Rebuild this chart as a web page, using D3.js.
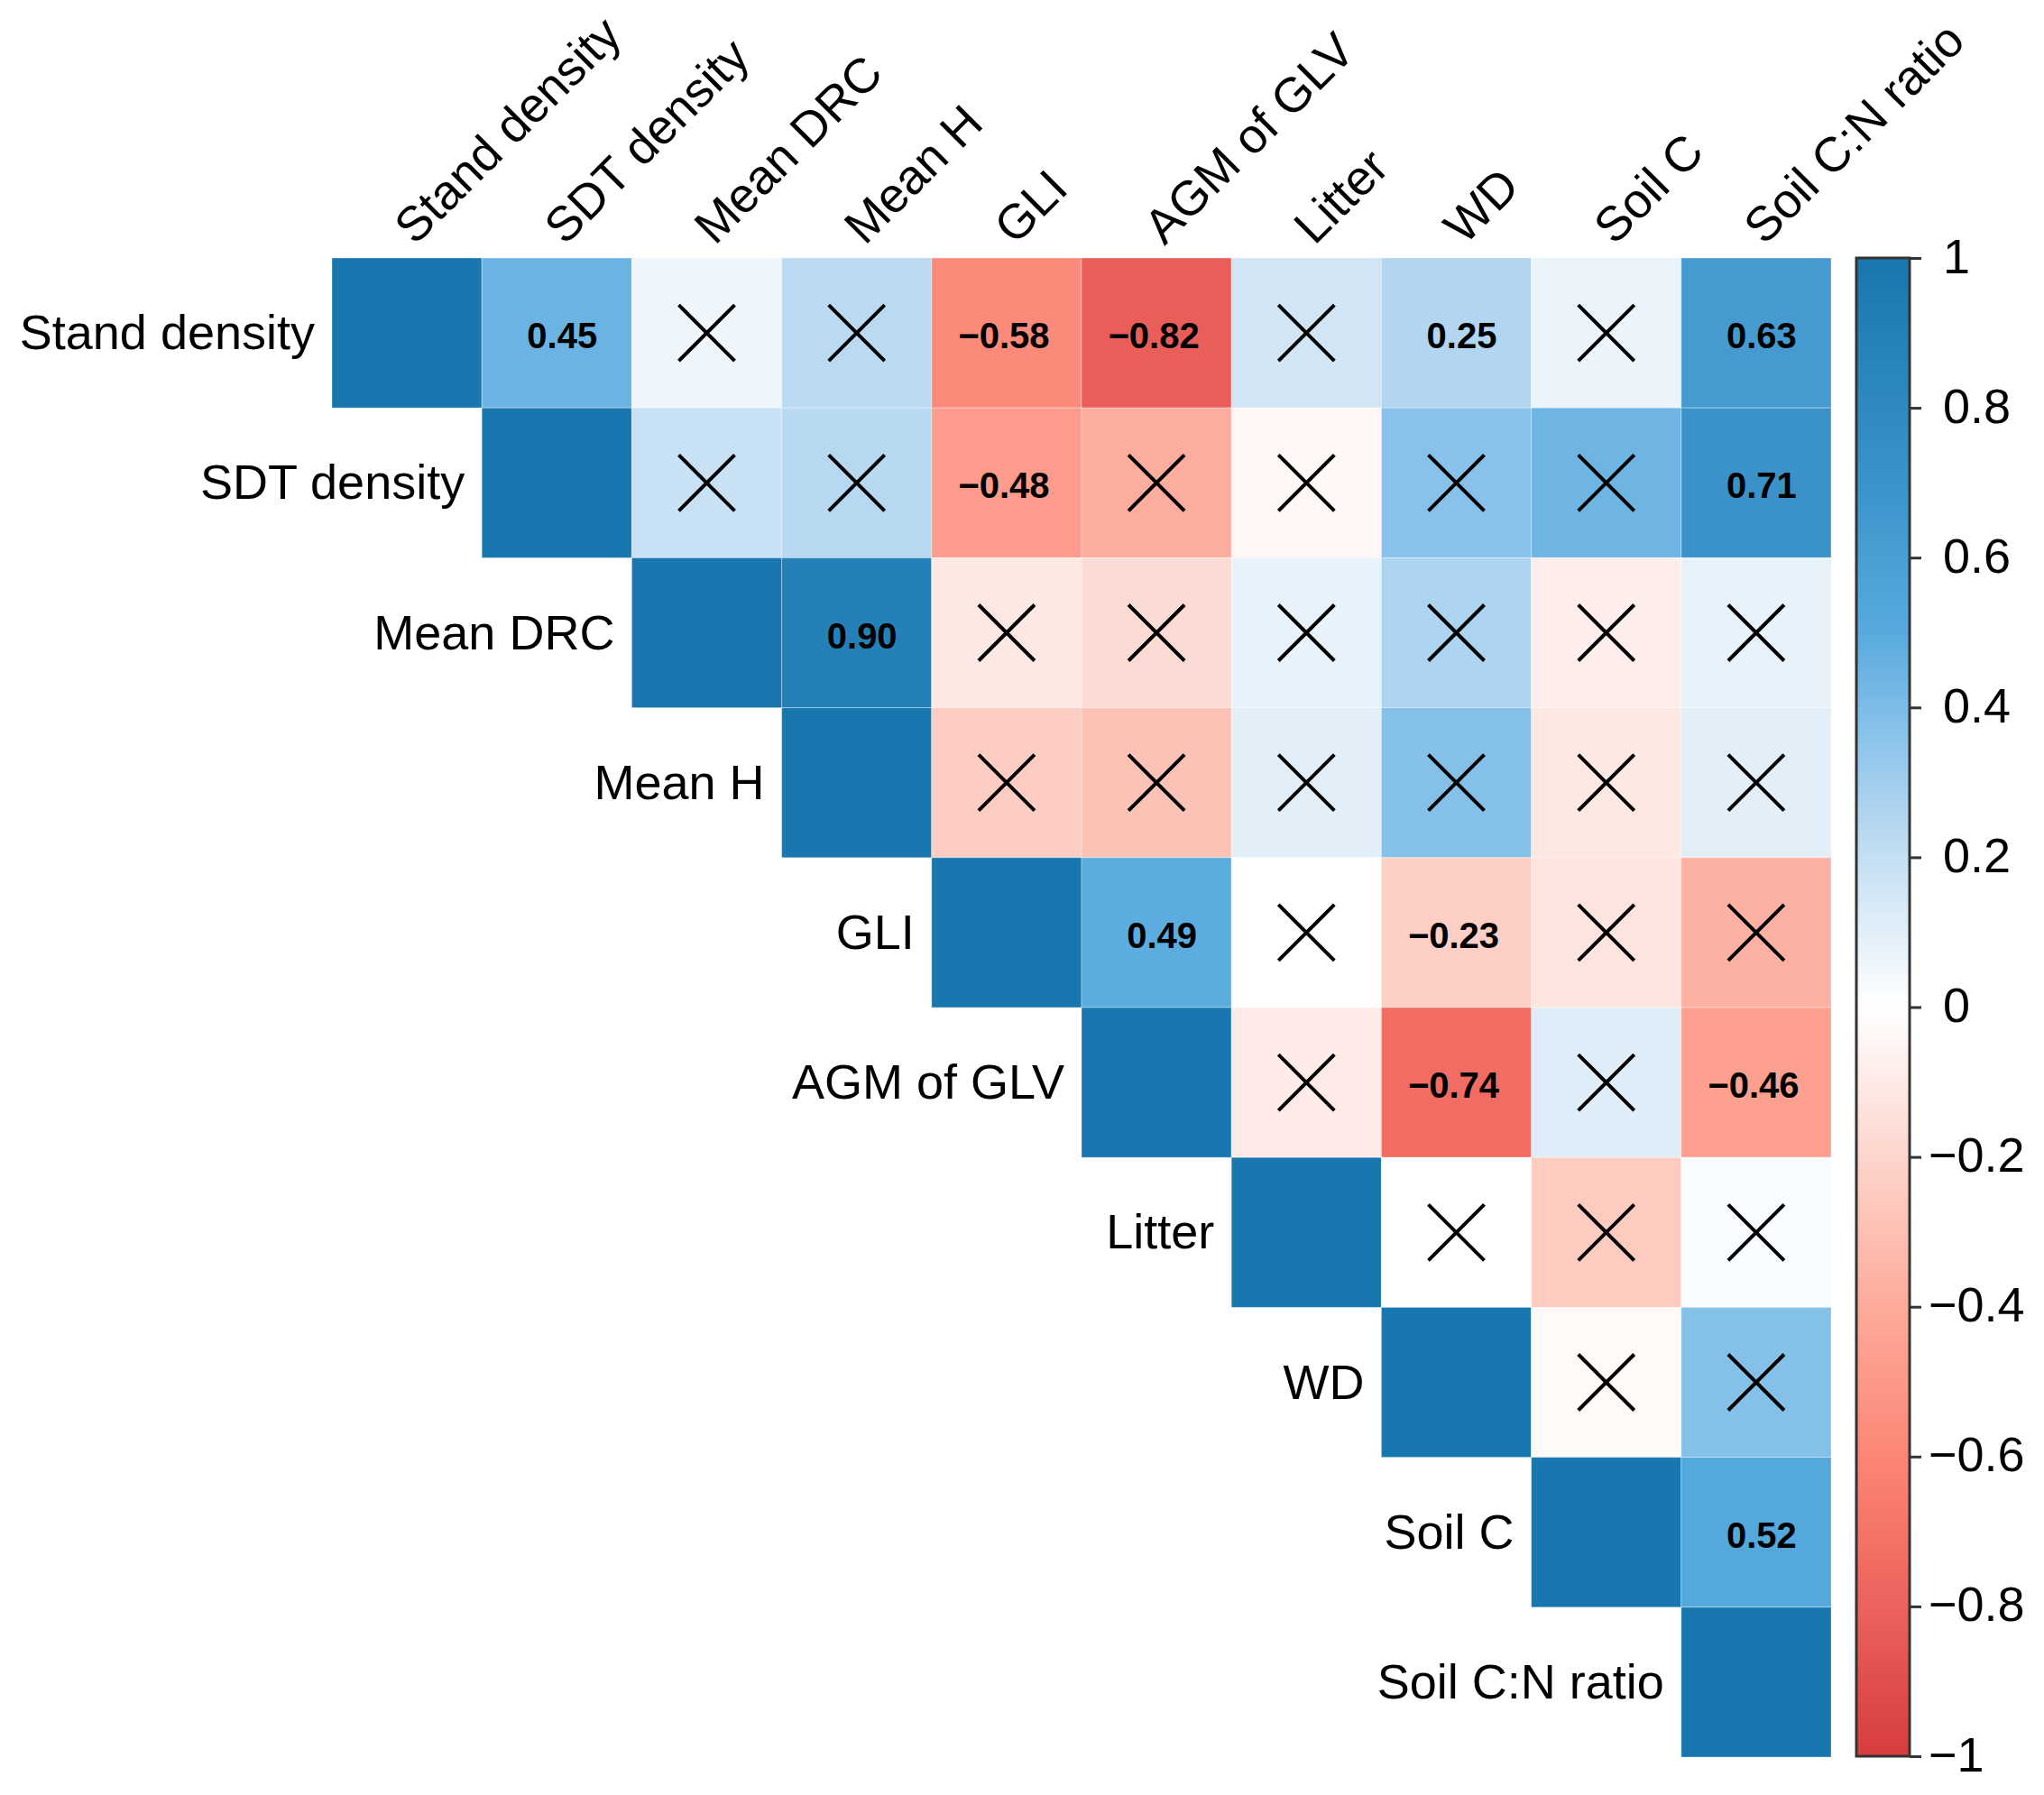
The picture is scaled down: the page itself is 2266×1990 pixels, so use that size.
<!DOCTYPE html>
<html>
<head>
<meta charset="utf-8">
<script src="https://cdn.jsdelivr.net/npm/d3@7"></script>
<style>
  body { margin: 0; background: #fff; }
  text { font-family: "Liberation Sans", Arial, sans-serif; fill: #000; }
</style>
</head>
<body>
<script>
var variables = ["Stand density", "SDT density", "Mean DRC", "Mean H", "GLI",
                 "AGM of GLV", "Litter", "WD", "Soil C", "Soil C:N ratio"];

// upper triangle of the correlation matrix, one row per variable (diagonal = 1)
var corrRows = [
  [1, 0.45, 0.06, 0.23, -0.58, -0.82, 0.16, 0.25, 0.07, 0.63],
  [1, 0.19, 0.24, -0.48, -0.39, -0.04, 0.37, 0.44, 0.71],
  [1, 0.90, -0.11, -0.17, 0.08, 0.27, -0.08, 0.08],
  [1, -0.24, -0.29, 0.10, 0.38, -0.11, 0.10],
  [1, 0.49, 0.00, -0.23, -0.13, -0.37],
  [1, -0.10, -0.74, 0.11, -0.46],
  [1, 0.00, -0.25, 0.02],
  [1, -0.03, 0.38],
  [1, 0.52],
  [1]
];

// 1 = significant (value printed), 0 = not significant (crossed out)
var sigRows = [
  [1, 1, 0, 0, 1, 1, 0, 1, 0, 1],
  [1, 0, 0, 1, 0, 0, 0, 0, 1],
  [1, 1, 0, 0, 0, 0, 0, 0],
  [1, 0, 0, 0, 0, 0, 0],
  [1, 1, 0, 1, 0, 0],
  [1, 0, 1, 0, 1],
  [1, 0, 0, 0],
  [1, 0, 0],
  [1, 1],
  [1]
];

var colorDomain = [-1, -0.8, -0.6, -0.4, -0.2, 0, 0.2, 0.4, 0.5, 0.7, 1];
var colorRange = ["#d63c3e", "#ec625c", "#fc8676", "#fdab9a", "#fdd5cd", "#ffffff",
                  "#c5dff3", "#7dbce7", "#58aade", "#3b93c9", "#1877ae"];
var legendTicks = [1, 0.8, 0.6, 0.4, 0.2, 0, -0.2, -0.4, -0.6, -0.8, -1];

var width = 2266, height = 1990;
var grid = {left: 368, top: 286, right: 2030, bottom: 1948};
var bar = {left: 2058, width: 59};

var svg = d3.select("body").append("svg")
            .attr("width", width)
            .attr("height", height);

var xScale = d3.scaleBand().domain(variables).range([grid.left, grid.right]);
var yScale = d3.scaleBand().domain(variables).range([grid.top, grid.bottom]);
var colorScale = d3.scaleLinear().domain(colorDomain).range(colorRange);
var cell = xScale.bandwidth();

var cells = [];
corrRows.forEach(function(row, i) {
  row.forEach(function(v, k) {
    var j = i + k;
    cells.push({row: variables[i], col: variables[j], value: v, sig: sigRows[i][k], diag: i === j});
  });
});

var cellG = svg.append("g").attr("class", "cells");

cellG.selectAll("rect")
  .data(cells)
  .enter().append("rect")
    .attr("x", function(d) { return xScale(d.col); })
    .attr("y", function(d) { return yScale(d.row); })
    .attr("width", cell)
    .attr("height", cell)
    .attr("fill", function(d) { return colorScale(d.value); })
    .attr("stroke", "#fff")
    .attr("stroke-opacity", 0.35)
    .attr("stroke-width", 1);

var fmt = function(v) { return d3.format(".2f")(v).replace("-", "\u2212"); };

cellG.selectAll("text.value")
  .data(cells.filter(function(d) { return d.sig && !d.diag; }))
  .enter().append("text")
    .attr("class", "value")
    .attr("x", function(d) { return xScale(d.col) + cell / 2 + (d.value > 0 ? 6 : -3); })
    .attr("y", function(d) { return yScale(d.row) + cell / 2 + 17; })
    .attr("text-anchor", "middle")
    .style("font-size", "40px")
    .style("font-weight", "bold")
    .text(function(d) { return fmt(d.value); });

// crosses for non-significant pairs
var half = 31;
var crosses = cellG.selectAll("g.cross")
  .data(cells.filter(function(d) { return !d.sig; }))
  .enter().append("g")
    .attr("class", "cross")
    .attr("transform", function(d) {
      return "translate(" + (xScale(d.col) + cell / 2) + "," + (yScale(d.row) + cell / 2) + ")";
    });

crosses.append("path")
  .attr("d", "M" + (-half) + "," + (-half) + "L" + half + "," + half +
             "M" + (-half) + "," + half + "L" + half + "," + (-half))
  .attr("stroke", "#000")
  .attr("stroke-width", 4)
  .attr("fill", "none");

// row labels, to the left of each diagonal cell
svg.append("g").selectAll("text")
  .data(variables)
  .enter().append("text")
    .attr("x", function(d) { return xScale(d) - 19; })
    .attr("y", function(d) { return yScale(d) + cell / 2 + 18; })
    .attr("text-anchor", "end")
    .style("font-size", "54px")
    .text(function(d) { return d; });

// column labels, rotated
svg.append("g").selectAll("text")
  .data(variables)
  .enter().append("text")
    .attr("transform", function(d) {
      return "translate(" + (xScale(d) + cell / 2 + 9) + "," + (grid.top - 13) + ") rotate(-45)";
    })
    .attr("text-anchor", "start")
    .style("font-size", "54px")
    .text(function(d) { return d; });

// colour bar
var barScale = d3.scaleLinear().domain([-1, 1]).range([grid.bottom - 1, grid.top]);

var grad = svg.append("defs").append("linearGradient")
  .attr("id", "corrGrad")
  .attr("x1", "0").attr("y1", "1").attr("x2", "0").attr("y2", "0");

grad.selectAll("stop")
  .data(colorDomain)
  .enter().append("stop")
    .attr("offset", function(d) { return ((d + 1) / 2 * 100) + "%"; })
    .attr("stop-color", function(d) { return colorScale(d); });

svg.append("rect")
  .attr("x", bar.left)
  .attr("y", barScale(1))
  .attr("width", bar.width)
  .attr("height", barScale(-1) - barScale(1))
  .attr("fill", "url(#corrGrad)")
  .attr("stroke", "#333")
  .attr("stroke-width", 3);

var barAxis = d3.axisRight(barScale)
  .tickValues(legendTicks)
  .tickSize(13)
  .tickFormat(d3.format("~g"));

var axisG = svg.append("g")
  .attr("transform", "translate(" + (bar.left + bar.width) + ",0)")
  .call(barAxis);

axisG.select(".domain").remove();
axisG.selectAll(".tick line").attr("stroke", "#333").attr("stroke-width", 3);
axisG.selectAll(".tick text")
  .attr("x", function(d) { return d < 0 ? 21 : 37; })
  .attr("dy", null)
  .attr("y", 16)
  .attr("text-anchor", "start")
  .style("font-size", "54px")
  .style("font-family", "'Liberation Sans', Arial, sans-serif")
  .attr("fill", "#000");
</script>
</body>
</html>
